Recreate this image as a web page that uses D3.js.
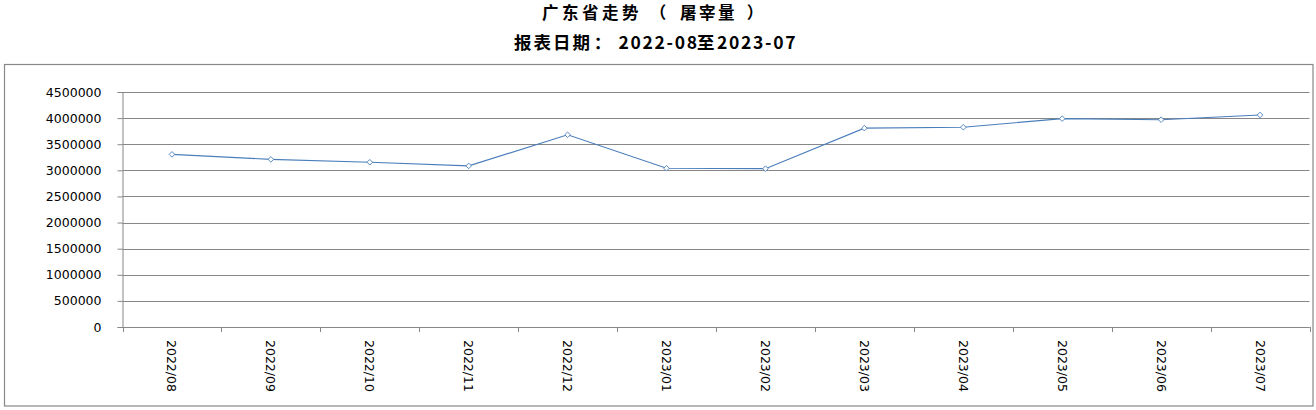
<!DOCTYPE html>
<html><head><meta charset="utf-8">
<script src="https://cdn.jsdelivr.net/npm/d3@7"></script>
<style>body{margin:0;background:#fff}svg{display:block}</style>
</head><body>
<svg id="c" width="1316" height="410"></svg>
<script>
const categories = ["2022/08","2022/09","2022/10","2022/11","2022/12","2023/01","2023/02","2023/03","2023/04","2023/05","2023/06","2023/07"];
const values = [3305000,3210000,3155000,3085000,3680000,3040000,3032000,3808000,3825000,3990000,3970000,4060000];
const yTicks = [0,500000,1000000,1500000,2000000,2500000,3000000,3500000,4000000,4500000];
const title1Parts = ["广东省走势","（","屠宰量","）"];
const title2Parts = ["报表日期","：","2022-08","至","2023-07"];

const svg = d3.select("#c");
const L = 122.5, R = 1309.5, T = 92, B = 327;
const x = d3.scaleBand().domain(categories).range([L, R]).padding(0);
const y = d3.scaleLinear().domain([0, 4500000]).range([B, T]);

svg.append("rect").attr("x",4.5).attr("y",64.5).attr("width",1308.5).attr("height",341.5)
  .attr("fill","#fff").attr("stroke","#888").attr("stroke-width",1.2);

const tfont = "'Noto Sans CJK SC', sans-serif";
function titleLine(parts, xs, anchors, ls, yb, fs){
  const t = svg.append("text").attr("y",yb)
    .attr("font-family",tfont).attr("font-weight","bold").attr("font-size",fs);
  parts.forEach((s,i)=>t.append("tspan").attr("x",xs[i]).attr("text-anchor",anchors[i])
    .attr("letter-spacing",ls[i]+"px").text(s));
}
titleLine(title1Parts,[542,658,680,755],["start","middle","start","middle"],[3.5,0,2.5,0],19.3,16.5);
titleLine(title2Parts,[514,602.5,618.5,697,717],["start","middle","start","start","start"],[2,0,1.7,0,1.7],49,17.5);

// gridlines
svg.append("g").selectAll("line").data(yTicks).join("line")
  .attr("x1",L).attr("x2",R).attr("y1",d=>Math.round(y(d))+0.5).attr("y2",d=>Math.round(y(d))+0.5)
  .attr("stroke","#878787").attr("stroke-width",1);

// y axis
const ya = svg.append("g").attr("transform",`translate(${L},0)`)
  .call(d3.axisLeft(y).tickValues(yTicks).tickSize(5).tickPadding(16).tickFormat(d3.format("d")));
ya.select(".domain").attr("stroke","#878787");
ya.selectAll(".tick line").attr("stroke","#878787");
ya.selectAll(".tick text").attr("font-family","'DejaVu Sans', sans-serif").attr("font-size",12.5).attr("fill","#000");

// x axis
const boundaries = categories.map(c=>x(c)).concat([R]);
svg.append("line").attr("x1",L).attr("x2",R).attr("y1",B+0.5).attr("y2",B+0.5).attr("stroke","#878787");
svg.append("g").selectAll("line").data(boundaries).join("line")
  .attr("x1",d=>Math.round(d)+0.5).attr("x2",d=>Math.round(d)+0.5).attr("y1",B).attr("y2",B+5)
  .attr("stroke","#878787");
svg.append("g").selectAll("text").data(categories).join("text")
  .attr("transform",d=>`translate(${x(d)+x.bandwidth()/2-4.5},340) rotate(90)`)
  .attr("text-anchor","start")
  .attr("font-family","'DejaVu Sans', sans-serif").attr("font-size",12.5).attr("fill","#000")
  .text(d=>d);

// line
const line = d3.line().x((d,i)=>x(categories[i])+x.bandwidth()/2).y(d=>y(d));
svg.append("path").datum(values).attr("d",line).attr("fill","none")
  .attr("stroke","#4a7ebb").attr("stroke-width",1.1);
svg.append("g").selectAll("path").data(values).join("path")
  .attr("transform",(d,i)=>`translate(${x(categories[i])+x.bandwidth()/2},${y(d)})`)
  .attr("d","M0,-2.8L2.8,0L0,2.8L-2.8,0Z")
  .attr("fill","#fff").attr("stroke","#4a7ebb").attr("stroke-width",0.9);
</script>
</body></html>
